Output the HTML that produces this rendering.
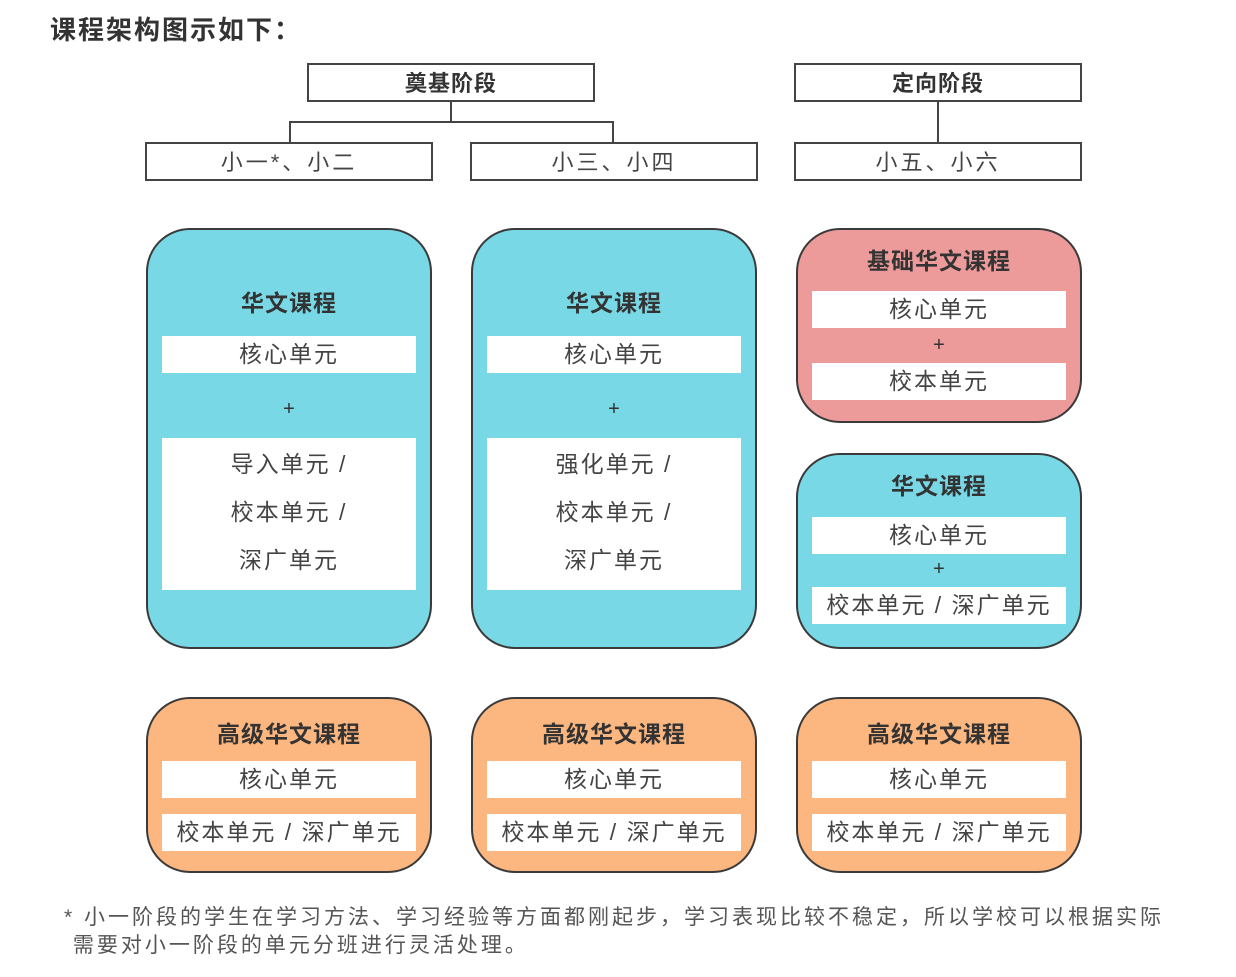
<!DOCTYPE html>
<html><head><meta charset="utf-8"><style>
body{margin:0;width:1236px;height:977px;background:#fff;position:relative;overflow:hidden;font-family:"Liberation Sans","Noto Sans CJK SC",sans-serif;color:#444}
.a{position:absolute}
.hb{position:absolute;border:2px solid #444;background:#fff;box-sizing:border-box;text-align:center;font-size:22px;letter-spacing:3px}
.ln{position:absolute;background:#444}
.rb{position:absolute;border:2px solid #3a3a3a;border-radius:44px;box-sizing:border-box}
.t{position:absolute;left:0;right:0;text-align:center;font-weight:bold;font-size:23px;color:#333;letter-spacing:1px}
.w{position:absolute;left:14px;right:14px;background:#fff;text-align:center;font-size:23px;color:#444;letter-spacing:2px}
.p{position:absolute;left:0;right:0;text-align:center;font-size:20px;color:#333}
.cy{background:#79d8e5}.pk{background:#ec9a9a}.or{background:#fcb67f}
</style></head><body>
<div class="a" style="left:50px;top:10px;font-size:26px;color:#333;letter-spacing:2px;font-weight:bold">课程架构图示如下：</div>

<div class="hb" style="left:307px;top:63px;width:288px;height:39px;line-height:37px;font-weight:bold;color:#333;letter-spacing:1px">奠基阶段</div>
<div class="hb" style="left:794px;top:63px;width:288px;height:39px;line-height:37px;font-weight:bold;color:#333;letter-spacing:1px">定向阶段</div>
<div class="ln" style="left:450px;top:101px;width:2px;height:22px"></div>
<div class="ln" style="left:289px;top:121px;width:325px;height:2px"></div>
<div class="ln" style="left:289px;top:121px;width:2px;height:22px"></div>
<div class="ln" style="left:612px;top:121px;width:2px;height:22px"></div>
<div class="ln" style="left:937px;top:101px;width:2px;height:42px"></div>
<div class="hb" style="left:145px;top:142px;width:288px;height:39px;line-height:37px">小一*、小二</div>
<div class="hb" style="left:470px;top:142px;width:288px;height:39px;line-height:37px">小三、小四</div>
<div class="hb" style="left:794px;top:142px;width:288px;height:39px;line-height:37px">小五、小六</div>

<div class="rb cy" style="left:146px;top:228px;width:286px;height:421px">
 <div class="t" style="top:54px">华文课程</div>
 <div class="w" style="top:106px;height:37px;line-height:37px">核心单元</div>
 <div class="p" style="top:168px">+</div>
 <div class="w" style="top:208px;height:152px;line-height:48px;padding-top:2px;box-sizing:border-box">导入单元 /<br>校本单元 /<br>深广单元</div>
</div>
<div class="rb cy" style="left:471px;top:228px;width:286px;height:421px">
 <div class="t" style="top:54px">华文课程</div>
 <div class="w" style="top:106px;height:37px;line-height:37px">核心单元</div>
 <div class="p" style="top:168px">+</div>
 <div class="w" style="top:208px;height:152px;line-height:48px;padding-top:2px;box-sizing:border-box">强化单元 /<br>校本单元 /<br>深广单元</div>
</div>

<div class="rb pk" style="left:796px;top:228px;width:286px;height:195px">
 <div class="t" style="top:12px">基础华文课程</div>
 <div class="w" style="top:61px;height:37px;line-height:37px">核心单元</div>
 <div class="p" style="top:104px">+</div>
 <div class="w" style="top:133px;height:37px;line-height:37px">校本单元</div>
</div>
<div class="rb cy" style="left:796px;top:453px;width:286px;height:196px">
 <div class="t" style="top:12px">华文课程</div>
 <div class="w" style="top:62px;height:37px;line-height:37px">核心单元</div>
 <div class="p" style="top:103px">+</div>
 <div class="w" style="top:132px;height:37px;line-height:37px">校本单元 / 深广单元</div>
</div>

<div class="rb or" style="left:146px;top:697px;width:286px;height:176px">
 <div class="t" style="top:16px">高级华文课程</div>
 <div class="w" style="top:62px;height:37px;line-height:37px">核心单元</div>
 <div class="w" style="top:115px;height:37px;line-height:37px">校本单元 / 深广单元</div>
</div>
<div class="rb or" style="left:471px;top:697px;width:286px;height:176px">
 <div class="t" style="top:16px">高级华文课程</div>
 <div class="w" style="top:62px;height:37px;line-height:37px">核心单元</div>
 <div class="w" style="top:115px;height:37px;line-height:37px">校本单元 / 深广单元</div>
</div>
<div class="rb or" style="left:796px;top:697px;width:286px;height:176px">
 <div class="t" style="top:16px">高级华文课程</div>
 <div class="w" style="top:62px;height:37px;line-height:37px">核心单元</div>
 <div class="w" style="top:115px;height:37px;line-height:37px">校本单元 / 深广单元</div>
</div>

<div class="a" style="left:64px;top:904px;font-size:21px;line-height:28px;color:#555;letter-spacing:3px;white-space:nowrap">* 小一阶段的学生在学习方法、学习经验等方面都刚起步，学习表现比较不稳定，所以学校可以根据实际<br>&nbsp;需要对小一阶段的单元分班进行灵活处理。</div>
</body></html>
